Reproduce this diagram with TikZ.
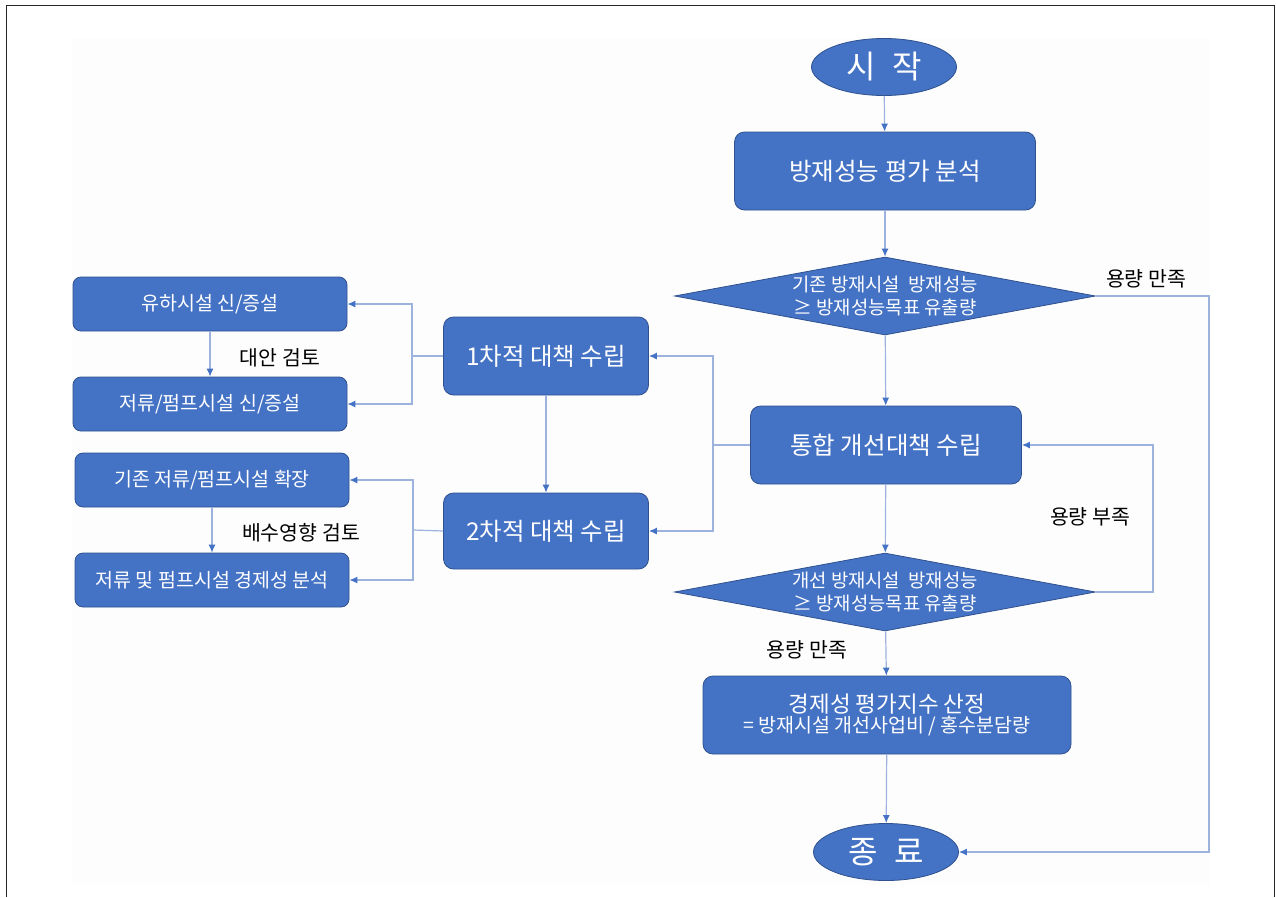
\documentclass[tikz,border=0pt]{standalone}
\usepackage{fontspec}
\newfontfamily\kr{Noto Sans CJK KR}
\usetikzlibrary{shapes.geometric,arrows.meta}
\definecolor{boxblue}{HTML}{4472C4}
\definecolor{boxedge}{HTML}{2F528F}
\definecolor{linkblue}{HTML}{9DB3DE}
\definecolor{tipblue}{HTML}{4472C4}
\definecolor{bgfaint}{HTML}{FDFDFD}
\begin{document}
\begin{tikzpicture}[x=1pt,y=-1pt,
  box/.style={rectangle, rounded corners=10pt, draw=boxedge, line width=0.8pt, fill=boxblue, text=white, inner sep=0pt, align=center},
  bigbox/.style={box, font=\kr\fontsize{24.5}{28}\selectfont},
  smallbox/.style={box, rounded corners=8pt, minimum width=274pt, minimum height=54pt, font=\kr\fontsize{19.5}{22}\selectfont},
  term/.style={ellipse, draw=boxedge, line width=0.8pt, fill=boxblue, text=white, inner sep=0pt, minimum width=145pt, minimum height=57pt, font=\kr\fontsize{32}{36}\selectfont},
  decide/.style={diamond, draw=boxedge, line width=0.8pt, fill=boxblue, text=white, inner sep=0pt, aspect=5.4, minimum width=421pt, minimum height=78pt, align=center, font=\kr\fontsize{18.8}{23}\selectfont},
  lbl/.style={font=\kr\fontsize{20.5}{24}\selectfont, text=black, inner sep=0pt},
  conn/.style={draw=linkblue, line width=1.2pt, -{Latex[length=8pt,width=7pt,color=tipblue]}},
  wire/.style={draw=linkblue, line width=1.2pt}
]
\useasboundingbox (0,0) rectangle (1276,897);
\fill[white] (0,0) rectangle (1276,897);
\fill[bgfaint] (72,38) rectangle (1210,885);
\draw[line width=1.6pt, black!85] (6.5,897) -- (6.5,5.5) -- (1274.5,5.5) -- (1274.5,897);

% main column
\node[term] (start) at (884,67) {시\hspace{0.5em}작};
\node[bigbox, minimum width=301pt, minimum height=78pt] (eval) at (885,171) {방재성능 평가 분석};
\node[decide] (d1) at (885,296) {기존 방재시설\ \ 방재성능\\≥ 방재성능목표 유출량};
\node[bigbox, minimum width=271pt, minimum height=78pt] (integ) at (886,445) {통합 개선대책 수립};
\node[decide] (d2) at (885,592) {개선 방재시설\ \ 방재성능\\≥ 방재성능목표 유출량};
\node[box, minimum width=368pt, minimum height=78pt] (econ) at (887,715)
  {\kr\fontsize{22.5}{25}\selectfont 경제성 평가지수 산정\\[1.5pt]\kr\fontsize{19.5}{22}\selectfont = 방재시설 개선사업비 / 홍수분담량};
\node[term] (end) at (886,852) {종\hspace{0.5em}료};

% middle column
\node[bigbox, minimum width=205pt, minimum height=78pt] (s1) at (546,356) {1차적 대책 수립};
\node[bigbox, minimum width=205pt, minimum height=76pt] (s2) at (546,531) {2차적 대책 수립};

% left column
\node[smallbox] (a1) at (210,304) {유하시설 신/증설};
\node[smallbox] (a2) at (210,404) {저류/펌프시설 신/증설};
\node[smallbox] (b1) at (212,480) {기존 저류/펌프시설 확장};
\node[smallbox] (b2) at (212,580) {저류 및 펌프시설 경제성 분석};

% labels
\node[lbl] (l1) at (1146,279) {용량 만족};
\node[lbl] (l2) at (1090,517) {용량 부족};
\node[lbl] (l3) at (807,650) {용량 만족};
\node[lbl] (l4) at (280,358) {대안 검토};
\node[lbl] (l5) at (301,533) {배수영향 검토};

% coordinates
\coordinate (rc) at (1209,296);
\coordinate (lc) at (1153,592);
\coordinate (jm) at (713,445);
\coordinate (j1) at (412,356);
\coordinate (j2) at (413,530);

% main connectors
\draw[conn] (start) -- (eval);
\draw[conn] (eval) -- (d1);
\draw[conn] (d1) -- (integ);
\draw[conn] (integ) -- (d2);
\draw[conn] (d2) -- (econ);
\draw[conn] (econ) -- (end);
\draw[conn] (d1.east) -- (rc) |- (end.east);
\draw[conn] (d2.east) -- (lc) |- (integ.east);

% to middle
\draw[wire] (integ.west) -- (jm);
\draw[conn] (jm) |- (s1.east);
\draw[conn] (jm) |- (s2.east);
\draw[conn] (s1) -- (s2);

% to left
\draw[wire] (s1.west) -- (j1);
\draw[conn] (j1) |- (a1.east);
\draw[conn] (j1) |- (a2.east);
\draw[conn] (a1) -- (a2);
\draw[wire] (s2.west) -- (j2);
\draw[conn] (j2) |- (b1.east);
\draw[conn] (j2) |- (b2.east);
\draw[conn] (b1) -- (b2);
\end{tikzpicture}
\end{document}
